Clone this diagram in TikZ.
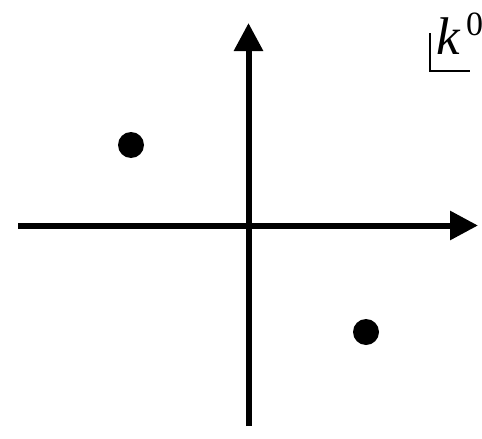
\documentclass[tikz,border=0pt]{standalone}
\usepackage{fontspec}
\setmainfont{Liberation Serif}
\usetikzlibrary{arrows.meta}
\begin{document}
\begin{tikzpicture}[x=1pt,y=-1pt,
  axis/.style={line width=6pt,-{Triangle[length=28pt,width=28pt]}},
  pole/.style={circle,fill=black,inner sep=0pt,minimum size=26pt},
  corner/.style={line width=2pt}]
\useasboundingbox (0,0) rectangle (482,439);
\coordinate (hs) at (18,225.5);
\coordinate (he) at (478,225.5);
\coordinate (vs) at (248.5,426);
\coordinate (ve) at (248.5,23);
\draw[axis] (hs) -- (he);
\draw[axis] (vs) -- (ve);
\node[pole] (p1) at (131,145) {};
\node[pole] (p2) at (366,332) {};
\coordinate (c1) at (429.5,33);
\coordinate (c2) at (429.5,71);
\coordinate (c3) at (470,71);
\draw[corner] (c1) -- (c2) -- (c3);
\node[anchor=base west,inner sep=0pt,font=\fontsize{53pt}{53pt}\selectfont\itshape] (lab) at (436,54.5) {k};
\node[anchor=base west,inner sep=0pt,font=\fontsize{34pt}{34pt}\selectfont] (sup) at (466,35.5) {0};
\end{tikzpicture}
\end{document}
